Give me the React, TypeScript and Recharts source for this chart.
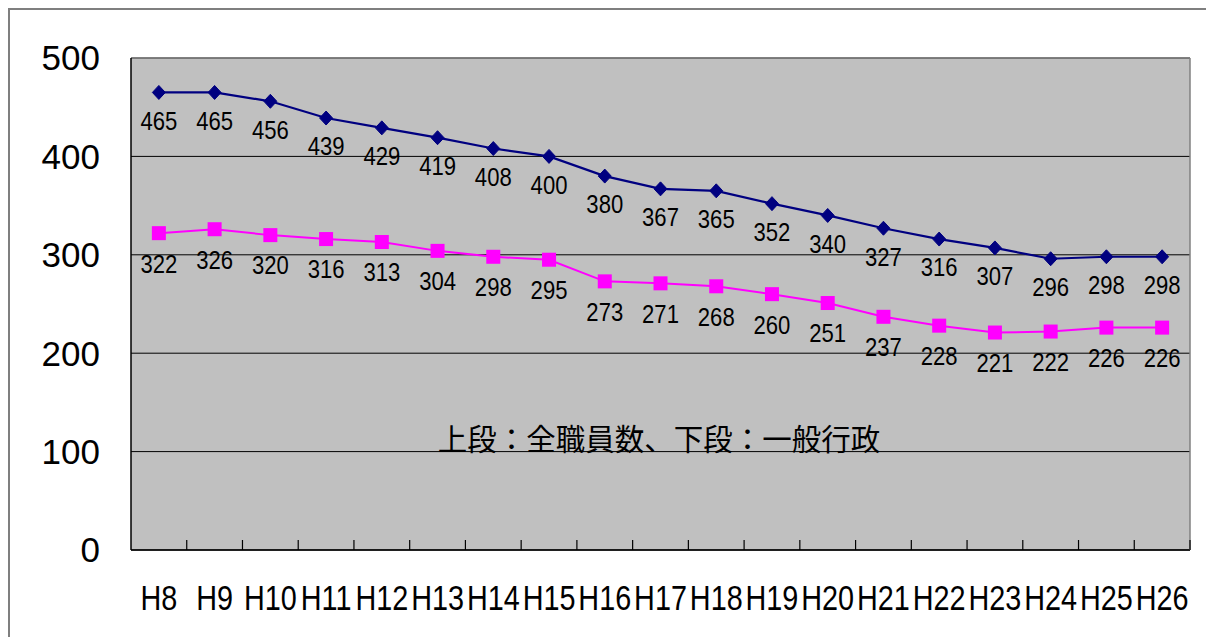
import React from 'react';
import {
  LineChart,
  Line,
  XAxis,
  YAxis,
  CartesianGrid,
  ReferenceLine,
  LabelList
} from 'recharts';

// 年度（平成）
const years = ['H8', 'H9', 'H10', 'H11', 'H12', 'H13', 'H14', 'H15', 'H16', 'H17', 'H18', 'H19', 'H20', 'H21', 'H22', 'H23', 'H24', 'H25', 'H26'];
// 上段：全職員数
const totalStaff = [465, 465, 456, 439, 429, 419, 408, 400, 380, 367, 365, 352, 340, 327, 316, 307, 296, 298, 298];
// 下段：一般行政
const generalAdmin = [322, 326, 320, 316, 313, 304, 298, 295, 273, 271, 268, 260, 251, 237, 228, 221, 222, 226, 226];
const yTicks = [0, 100, 200, 300, 400, 500];

const data = years.map((y, i) => ({ year: y, total: totalStaff[i], general: generalAdmin[i] }));

const SANS = '"Liberation Sans", Arial, sans-serif';
const JP = '"Noto Sans CJK JP", sans-serif';

const TICK_SIZE = 6;
const TICK_MARGIN = 28;

// X軸の目盛：ラベルは区間中央、目盛線は区間の境界に内向き
const XTick = (props: any) => {
  const { x, y, payload, index } = props;
  const half = payload?.offset ?? 27.9;
  const axisY = y - TICK_SIZE - TICK_MARGIN;
  return (
    <g>
      {index > 0 && (
        <line x1={x - half} y1={axisY} x2={x - half} y2={axisY - 10} stroke="#000" strokeWidth={1.2} />
      )}
      {index === years.length - 1 && (
        <line x1={x + half} y1={axisY} x2={x + half} y2={axisY - 10} stroke="#000" strokeWidth={1.2} />
      )}
      <text
        transform={`translate(${x},${y}) scale(0.8,1)`}
        dy="0.72em"
        textAnchor="middle"
        fontSize={36}
        fontFamily={SANS}
        fill="#000"
      >
        {payload.value}
      </text>
    </g>
  );
};

// データラベル（縦長の数字）
const makeLabel = (shift: number) => (props: any) => {
  const { x, y, value } = props;
  if (x == null || y == null) return null;
  return (
    <text
      transform={`translate(${x},${y + shift}) scale(0.85,1)`}
      dy="0.36em"
      textAnchor="middle"
      fontSize={26}
      fontFamily={SANS}
      fill="#000"
    >
      {value}
    </text>
  );
};

const Diamond = (props: any) => {
  const { cx, cy } = props;
  if (cx == null || cy == null) return null;
  return (
    <polygon
      points={`${cx},${cy - 7} ${cx + 6.5},${cy} ${cx},${cy + 7} ${cx - 6.5},${cy}`}
      fill="#000080"
      stroke="#000080"
    />
  );
};

const Square = (props: any) => {
  const { cx, cy } = props;
  if (cx == null || cy == null) return null;
  return <rect x={cx - 7} y={cy - 7} width={14} height={14} fill="#FF00FF" />;
};

export default function App() {
  return (
    <div style={{ position: 'relative', width: 1206, height: 629 }}>
      <div
        style={{
          position: 'absolute',
          left: 0,
          top: 0,
          width: 1206,
          height: 629,
          borderTop: '2px solid #7f7f7f',
          borderLeft: '2px solid #7f7f7f',
          boxSizing: 'border-box'
        }}
      />
      <div style={{ position: 'absolute', left: 0, top: 0 }}>
        <LineChart width={1206} height={629} data={data} margin={{ top: 50, right: 23, bottom: 0, left: 0 }}>
          <CartesianGrid yAxisId="l" vertical={false} stroke="#000" fill="#C0C0C0" fillOpacity={1} />
          <XAxis
            dataKey="year"
            scale="band"
            height={87}
            interval={0}
            axisLine={{ stroke: '#000', strokeWidth: 1.5 }}
            tickLine={false}
            tickSize={TICK_SIZE}
            tickMargin={TICK_MARGIN}
            tick={<XTick />}
          />
          <YAxis
            yAxisId="l"
            width={123}
            domain={[0, 500]}
            ticks={yTicks}
            axisLine={{ stroke: '#000', strokeWidth: 1.5 }}
            tickLine={false}
            tickSize={6}
            tickMargin={25}
            tick={{ fill: '#000', fontSize: 35, fontFamily: SANS }}
          />
          <YAxis
            yAxisId="r"
            orientation="right"
            width={1}
            domain={[0, 500]}
            tick={false}
            tickLine={false}
            axisLine={{ stroke: '#808080', strokeWidth: 1.5 }}
          />
          <ReferenceLine yAxisId="l" y={500} stroke="#808080" strokeWidth={1.5} />
          <Line
            yAxisId="l"
            type="linear"
            dataKey="total"
            stroke="#000080"
            strokeWidth={2.2}
            dot={<Diamond />}
            activeDot={false}
            isAnimationActive={false}
          >
            <LabelList dataKey="total" content={makeLabel(28)} />
          </Line>
          <Line
            yAxisId="l"
            type="linear"
            dataKey="general"
            stroke="#FF00FF"
            strokeWidth={2}
            dot={<Square />}
            activeDot={false}
            isAnimationActive={false}
          >
            <LabelList dataKey="general" content={makeLabel(30)} />
          </Line>
        </LineChart>
      </div>
      <div
        style={{
          position: 'absolute',
          left: 351,
          top: 412,
          width: 600,
          textAlign: 'center',
          fontFamily: JP,
          fontSize: 29.5,
          lineHeight: '34px',
          color: '#000',
          pointerEvents: 'none'
        }}
      >
        上段：全職員数、下段：一般行政
      </div>
    </div>
  );
}
